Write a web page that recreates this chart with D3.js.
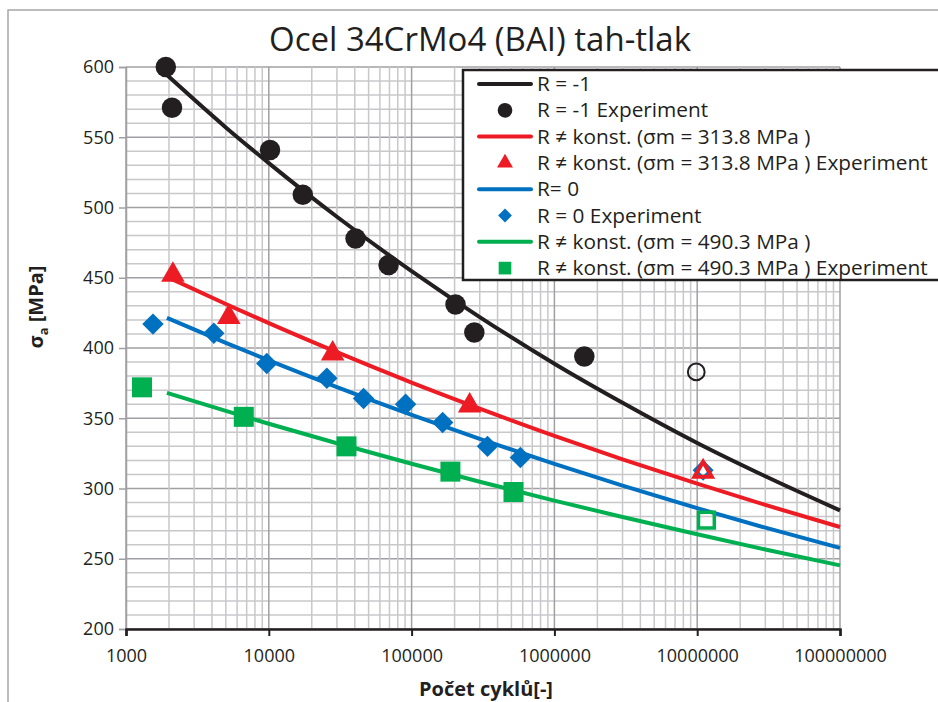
<!DOCTYPE html>
<html>
<head>
<meta charset="utf-8">
<script src="https://cdn.jsdelivr.net/npm/d3@7"></script>
<style>
  body { margin: 0; background: #fff; }
  text { font-family: "Open Sans", Lato, sans-serif; fill: #231f20; }
</style>
</head>
<body>
<div id="chart"></div>
<script>
// values
const cycleTicks = [1000, 10000, 100000, 1000000, 10000000, 100000000];
const stressTicks = [200, 250, 300, 350, 400, 450, 500, 550, 600];

// fitted curves (sampled)
const blackCurveN = [1900, 3000, 5000, 10000, 30000, 100000, 300000, 1000000, 3000000, 10000000, 30000000, 100000000];
const blackCurveS = [595, 576.8, 557, 531.6, 493.4, 454.7, 422, 388.8, 361, 332.4, 308.7, 284.4];
const redCurveN = [2100, 5000, 10000, 30000, 100000, 300000, 1000000, 3000000, 10000000, 30000000, 100000000];
const redCurveS = [449, 431.3, 417.7, 397, 375.4, 356.9, 337.5, 320.8, 303.4, 288.3, 272.6];
const blueCurveN = [1935, 5000, 10000, 30000, 100000, 300000, 1000000, 3000000, 10000000, 30000000, 100000000];
const blueCurveS = [421.4, 403.7, 391.2, 372.2, 352.4, 335.3, 317.5, 302.1, 286.0, 272.1, 257.7];
const greenCurveN = [1935, 5000, 10000, 30000, 100000, 300000, 1000000, 3000000, 10000000, 30000000, 100000000];
const greenCurveS = [368, 355.2, 346.1, 332.2, 317.6, 304.8, 291.4, 279.7, 267.4, 256.6, 245.3];

// experiments
const blackExpN = [1900, 2100, 10200, 17300, 40500, 69000, 203000, 275000, 1620000];
const blackExpS = [600, 571, 541, 509, 478, 459, 431, 411, 394];
const redExpN = [2130, 5250, 28000, 255000];
const redExpS = [452, 422, 396, 359];
const blueExpN = [1545, 4120, 9680, 25500, 46100, 90800, 165000, 340000, 578000];
const blueExpS = [417, 410.5, 389, 378.5, 364, 360, 347, 330, 322];
const greenExpN = [1294, 6680, 35000, 187000, 517000];
const greenExpS = [372, 351, 330, 312, 297.5];

// run-outs (hollow markers)
const blackRunoutN = [9850000];
const blackRunoutS = [383];
const blueRunoutN = [11000000];
const blueRunoutS = [313];
const redRunoutN = [11000000];
const redRunoutS = [312];
const greenRunoutN = [11600000];
const greenRunoutS = [277.5];

const legendLabels = [
  "R = -1",
  "R = -1 Experiment",
  "R \u2260 konst. (\u03c3m = 313.8 MPa )",
  "R \u2260 konst. (\u03c3m = 313.8 MPa ) Experiment",
  "R= 0",
  "R = 0 Experiment",
  "R \u2260 konst. (\u03c3m = 490.3 MPa )",
  "R \u2260 konst. (\u03c3m = 490.3 MPa ) Experiment"
];

const colBlack = "#231f20", colRed = "#ed1c24", colBlue = "#0070c0", colGreen = "#00b050";

const width = 938, height = 702;
const margin = { left: 126, top: 67, right: 98, bottom: 73 };

const svg = d3.select("#chart").append("svg")
  .attr("width", width)
  .attr("height", height);

// outer chart frame
svg.append("rect")
  .attr("x", 8).attr("y", 10)
  .attr("width", 960).attr("height", 720)
  .attr("fill", "#fff")
  .attr("stroke", "#a6a6a6")
  .attr("stroke-width", 1.5);

const x = d3.scaleLog()
  .domain([1000, 100000000])
  .range([margin.left, width - margin.right]);

const y = d3.scaleLinear()
  .domain([200, 600])
  .range([height - margin.bottom, margin.top]);

// grid
const grid = svg.append("g");
const isDecade = v => Math.abs(Math.log10(v) - Math.round(Math.log10(v))) < 1e-9;

grid.selectAll(".hy")
  .data(y.ticks(40))
  .enter().append("line")
  .attr("x1", x.range()[0]).attr("x2", x.range()[1])
  .attr("y1", d => y(d)).attr("y2", d => y(d))
  .attr("stroke", d => d % 50 === 0 ? "#a0a0a4" : "#c8c8cb")
  .attr("stroke-width", 1.5);

grid.selectAll(".vx")
  .data(x.ticks())
  .enter().append("line")
  .attr("x1", d => x(d)).attr("x2", d => x(d))
  .attr("y1", y.range()[0]).attr("y2", y.range()[1])
  .attr("stroke", d => isDecade(d) ? "#a0a0a4" : "#c8c8cb")
  .attr("stroke-width", 1.5);

// y axis
const yAxis = svg.append("g")
  .attr("transform", `translate(${margin.left},0)`)
  .call(d3.axisLeft(y).tickValues(stressTicks).tickSize(7).tickPadding(5));
yAxis.select(".domain").attr("stroke", "#a0a0a4").attr("stroke-width", 1.5);
yAxis.selectAll(".tick line").attr("stroke", "#a0a0a4").attr("stroke-width", 1.5);
yAxis.selectAll("text").attr("font-size", 18).attr("fill", colBlack)
  .style("font-family", "'Open Sans', Lato, sans-serif");

// x axis
const xAxis = svg.append("g")
  .attr("transform", `translate(0,${height - margin.bottom})`)
  .call(d3.axisBottom(x).tickValues(cycleTicks).tickFormat(d3.format("d")).tickSize(7).tickPadding(13));
xAxis.select(".domain").attr("stroke", colBlack).attr("stroke-width", 2.5);
xAxis.selectAll(".tick line").attr("stroke", colBlack).attr("stroke-width", 2);
xAxis.selectAll("text").attr("font-size", 18).attr("fill", colBlack)
  .style("font-family", "'Open Sans', Lato, sans-serif");

// curves
const line = d3.line()
  .x(d => x(d[0]))
  .y(d => y(d[1]))
  .curve(d3.curveMonotoneX);

const curves = [
  { n: greenCurveN, s: greenCurveS, c: colGreen },
  { n: blueCurveN, s: blueCurveS, c: colBlue },
  { n: redCurveN, s: redCurveS, c: colRed },
  { n: blackCurveN, s: blackCurveS, c: colBlack }
];

curves.forEach(cv => {
  svg.append("path")
    .datum(cv.n.map((v, i) => [v, cv.s[i]]))
    .attr("fill", "none")
    .attr("stroke", cv.c)
    .attr("stroke-width", 4)
    .attr("d", line);
});

// markers
function drawMarkers(ns, ss, type, size, color, rotate, hollow, sw) {
  svg.append("g").selectAll("path")
    .data(ns.map((v, i) => [v, ss[i]]))
    .enter().append("path")
    .attr("d", d3.symbol().type(type).size(size))
    .attr("transform", d => `translate(${x(d[0])},${y(d[1])}) rotate(${rotate})`)
    .attr("fill", hollow ? "none" : color)
    .attr("stroke", hollow ? color : "none")
    .attr("stroke-width", sw || 0);
}

drawMarkers(greenExpN, greenExpS, d3.symbolSquare, 400, colGreen, 0);
drawMarkers(blueExpN, blueExpS, d3.symbolSquare, 230, colBlue, 45);
drawMarkers(redExpN, redExpS, d3.symbolTriangle, 240, colRed, 0);
drawMarkers(blackExpN, blackExpS, d3.symbolCircle, 330, colBlack, 0);

drawMarkers(blackRunoutN, blackRunoutS, d3.symbolCircle, 220, colBlack, 0, true, 2);
drawMarkers(greenRunoutN, greenRunoutS, d3.symbolSquare, 250, colGreen, 0, true, 3.5);
drawMarkers(blueRunoutN, blueRunoutS, d3.symbolSquare, 130, colBlue, 45, true, 3.5);
drawMarkers(redRunoutN, redRunoutS, d3.symbolTriangle, 130, colRed, 0, true, 4);

// title
svg.append("text")
  .attr("x", 480).attr("y", 51)
  .attr("text-anchor", "middle")
  .attr("font-size", 33)
  .text("Ocel 34CrMo4 (BAI) tah-tlak");

// axis labels
svg.append("text")
  .attr("x", 486).attr("y", 696)
  .attr("text-anchor", "middle")
  .attr("font-size", 20)
  .attr("font-weight", "bold")
  .text("Počet cyklů[-]");

const yl = svg.append("text")
  .attr("transform", "translate(43,307) rotate(-90)")
  .attr("text-anchor", "middle")
  .attr("font-size", 20)
  .attr("font-weight", "bold");
yl.append("tspan").text("σ");
yl.append("tspan").attr("font-size", 13).attr("dy", 5).text("a");
yl.append("tspan").attr("dy", -5).text(" [MPa]");

// legend
const legend = svg.append("g");
legend.append("rect")
  .attr("x", 463).attr("y", 70)
  .attr("width", 500).attr("height", 210)
  .attr("fill", "#fff")
  .attr("stroke", colBlack)
  .attr("stroke-width", 2.5);

const legendItems = [
  { kind: "line", c: colBlack },
  { kind: "mark", c: colBlack, type: d3.symbolCircle, size: 170, rot: 0 },
  { kind: "line", c: colRed },
  { kind: "mark", c: colRed, type: d3.symbolTriangle, size: 110, rot: 0 },
  { kind: "line", c: colBlue },
  { kind: "mark", c: colBlue, type: d3.symbolSquare, size: 95, rot: 45 },
  { kind: "line", c: colGreen },
  { kind: "mark", c: colGreen, type: d3.symbolSquare, size: 160, rot: 0 }
];

legendItems.forEach((it, i) => {
  const ly = 84 + i * 26.3;
  if (it.kind === "line") {
    legend.append("line")
      .attr("x1", 479).attr("x2", 531)
      .attr("y1", ly).attr("y2", ly)
      .attr("stroke", it.c).attr("stroke-width", 4)
      .attr("stroke-linecap", "round");
  } else {
    legend.append("path")
      .attr("d", d3.symbol().type(it.type).size(it.size))
      .attr("transform", `translate(505,${ly}) rotate(${it.rot})`)
      .attr("fill", it.c);
  }
  legend.append("text")
    .attr("x", 537).attr("y", ly + 7)
    .attr("font-size", 20.8)
    .text(legendLabels[i]);
});
</script>
</body>
</html>
